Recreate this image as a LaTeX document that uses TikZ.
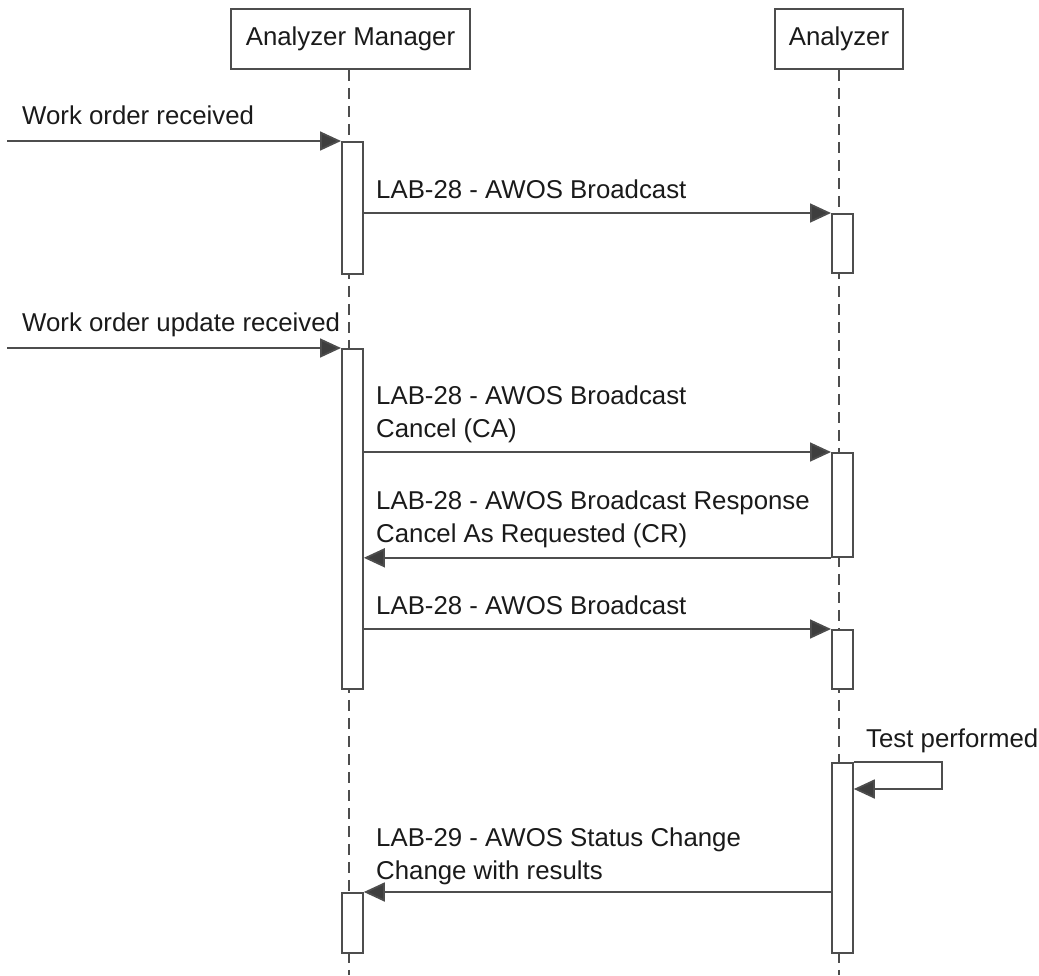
\documentclass[tikz,border=0pt]{standalone}
\usepackage{fontspec}
\setmainfont{Liberation Sans}
\usetikzlibrary{arrows.meta}
\definecolor{ln}{HTML}{4D4D4D}
\definecolor{tx}{HTML}{1A1A1A}
\begin{document}
\begin{tikzpicture}[x=1pt,y=-1pt,
  every node/.style={font=\fontsize{25.8}{33}\selectfont, text=tx},
  head/.style={draw=ln, line width=1.8pt, fill=white, inner sep=0pt, minimum height=60pt},
  bar/.style={draw=ln, line width=1.8pt, fill=white, inner sep=0pt, minimum width=21pt, anchor=north west},
  life/.style={draw=ln, line width=1.4pt, dash pattern=on 11pt off 7pt},
  msg/.style={draw=ln, line width=1.8pt, -{Triangle[length=21pt,width=19pt,fill=ln!80!black]}},
  lbl/.style={anchor=base west, inner sep=0pt, align=left}]
\useasboundingbox (0,0) rectangle (1039,975);
% headers
\node[head, minimum width=239pt] (mgr) at (350.5,39) {Analyzer Manager};
\node[head, minimum width=128pt] (ana) at (839,39) {Analyzer};
% lifelines
\coordinate (mend) at (349,975);
\coordinate (aend) at (839,975);
\draw[life] (mgr.south -| mend) -- (mend);
\draw[life] (ana.south -| aend) -- (aend);
% activation bars
\node[bar, minimum height=132pt] (mb1) at (341,141) {};
\node[bar, minimum height=59pt]  (ab1) at (831,213) {};
\node[bar, minimum height=340pt] (mb2) at (341,348) {};
\node[bar, minimum height=104pt] (ab2) at (831,452) {};
\node[bar, minimum height=59pt]  (ab3) at (831,629) {};
\node[bar, minimum height=190pt] (ab4) at (831,762) {};
\node[bar, minimum height=60pt]  (mb3) at (341,892) {};
% found messages
\coordinate (s1) at (7,141);
\coordinate (s2) at (7,348);
\draw[msg] (s1) -- (mb1.north west);
\node[lbl] (t1) at (22,124) {Work order received};
\draw[msg] (mb1.east |- ab1.north) -- (ab1.north west);
\node[lbl] (t2) at (376,198) {LAB-28 - AWOS Broadcast};
\draw[msg] (s2) -- (mb2.north west);
\node[lbl] (t3) at (22,331) {Work order update received};
\draw[msg] (mb2.east |- ab2.north) -- (ab2.north west);
\node[lbl] (t4) at (376,437) {LAB-28 - AWOS Broadcast\\Cancel (CA)};
\draw[msg] (ab2.south west) -- (mb2.east |- ab2.south);
\node[lbl] (t5) at (376,542) {LAB-28 - AWOS Broadcast Response\\Cancel As Requested (CR)};
\draw[msg] (mb2.east |- ab3.north) -- (ab3.north west);
\node[lbl] (t6) at (376,614) {LAB-28 - AWOS Broadcast};
% self message
\coordinate (sl) at (942,789);
\draw[msg] (ab4.north east) -| (sl) -- (ab4.east |- sl);
\node[lbl] (t7) at (866,747) {Test performed};
% return
\draw[msg] (ab4.west |- mb3.north) -- (mb3.north east);
\node[lbl] (t8) at (376,879) {LAB-29 - AWOS Status Change\\Change with results};
\end{tikzpicture}
\end{document}
